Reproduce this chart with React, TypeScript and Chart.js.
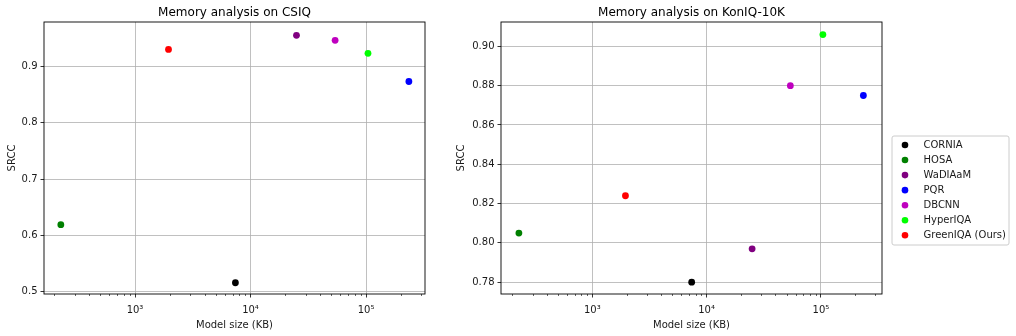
import React, { useEffect, useRef } from "react";
import { Chart, registerables } from "chart.js";

Chart.register(...registerables);

const models = ["CORNIA", "HOSA", "WaDIAaM", "PQR", "DBCNN", "HyperIQA", "GreenIQA (Ours)"];
const modelColors = ["#000000", "#008000", "#800080", "#0000ff", "#bf00bf", "#00ff00", "#ff0000"];
const modelSizesKB = [7400, 228, 25000, 235000, 54000, 104000, 1950];
const srccCSIQ = [0.516, 0.619, 0.955, 0.873, 0.946, 0.923, 0.930];
const srccKonIQ = [0.780, 0.805, 0.797, 0.875, 0.880, 0.906, 0.824];

const xTickValues = [1e3, 1e4, 1e5];
const xTickLabels = ["10³", "10⁴", "10⁵"];
const yTicksCSIQ = [0.5, 0.6, 0.7, 0.8, 0.9];
const yTicksKonIQ = [0.78, 0.8, 0.82, 0.84, 0.86, 0.88, 0.9];

const FONT = "'DejaVu Sans', sans-serif";
const TEXT = "#1a1a1a";

const framePlugin = {
  id: "frameMinor",
  afterDraw(chart: any) {
    const { ctx, chartArea } = chart;
    const sc = chart.scales.x;
    ctx.save();
    ctx.strokeStyle = "#000";
    ctx.lineWidth = 0.6;
    for (let d = 0; d < 8; d++) {
      for (let m = 2; m <= 9; m++) {
        const v = m * Math.pow(10, d);
        if (v >= sc.min && v <= sc.max) {
          const px = Math.round(sc.getPixelForValue(v)) + 0.5;
          ctx.beginPath();
          ctx.moveTo(px, chartArea.bottom);
          ctx.lineTo(px, chartArea.bottom + 2);
          ctx.stroke();
        }
      }
    }
    ctx.lineWidth = 0.9;
    ctx.strokeRect(chartArea.left, chartArea.top, chartArea.right - chartArea.left, chartArea.bottom - chartArea.top);
    ctx.restore();
  },
};

const legendPlugin = {
  id: "boxLegend",
  afterDraw(chart: any) {
    const opts = chart.options.plugins.boxLegend;
    if (!opts || !opts.show) return;
    const { ctx } = chart;
    const x = opts.x, y = opts.y, w = opts.w, h = opts.h;
    ctx.save();
    ctx.beginPath();
    const r = 2;
    ctx.moveTo(x + r, y);
    ctx.lineTo(x + w - r, y);
    ctx.quadraticCurveTo(x + w, y, x + w, y + r);
    ctx.lineTo(x + w, y + h - r);
    ctx.quadraticCurveTo(x + w, y + h, x + w - r, y + h);
    ctx.lineTo(x + r, y + h);
    ctx.quadraticCurveTo(x, y + h, x, y + h - r);
    ctx.lineTo(x, y + r);
    ctx.quadraticCurveTo(x, y, x + r, y);
    ctx.closePath();
    ctx.fillStyle = "rgba(255,255,255,0.8)";
    ctx.fill();
    ctx.strokeStyle = "#cccccc";
    ctx.lineWidth = 1;
    ctx.stroke();
    ctx.font = `10px ${FONT}`;
    ctx.textBaseline = "middle";
    chart.data.datasets.forEach((ds: any, i: number) => {
      const cy = y + 9 + i * 15.05;
      ctx.beginPath();
      ctx.arc(x + 13, cy, 3.3, 0, Math.PI * 2);
      ctx.fillStyle = ds.backgroundColor;
      ctx.fill();
      ctx.fillStyle = TEXT;
      ctx.fillText(ds.label, x + 31.5, cy + 0.5);
    });
    ctx.restore();
  },
};

function makeConfig(
  title: string,
  values: number[],
  yTicks: number[],
  yMin: number,
  yMax: number,
  xMin: number,
  xMax: number,
  decimals: number,
  yWidth: number,
  rightPad: number,
  yTitlePad: number,
  legend: boolean
): any {
  return {
    type: "scatter",
    data: {
      datasets: models.map((m, i) => ({
        label: m,
        data: [{ x: modelSizesKB[i], y: values[i] }],
        backgroundColor: modelColors[i],
        borderColor: modelColors[i],
        borderWidth: 0,
        pointRadius: 3.4,
        pointHoverRadius: 3.4,
      })),
    },
    options: {
      responsive: false,
      animation: false,
      events: [],
      layout: { padding: { left: 0, right: rightPad, top: 0, bottom: 0 } },
      plugins: {
        legend: { display: false },
        tooltip: { enabled: false },
        title: {
          display: true,
          text: title,
          fullSize: false,
          color: "#000",
          font: { family: FONT, size: 12, weight: "normal" },
          padding: { top: 6, bottom: 1.6 },
        },
        boxLegend: { show: legend, x: 452, y: 136, w: 117, h: 109 },
      },
      scales: {
        x: {
          type: "logarithmic",
          min: xMin,
          max: xMax,
          border: { display: false },
          grid: { color: "#b0b0b0", lineWidth: 0.8, tickColor: "#000", tickLength: 3.5, tickWidth: 0.8 },
          afterBuildTicks: (sc: any) => {
            sc.ticks = xTickValues.map((v) => ({ value: v }));
          },
          afterFit: (sc: any) => {
            sc.height = 42;
          },
          ticks: {
            autoSkip: false,
            maxRotation: 0,
            padding: 7,
            color: TEXT,
            font: { family: FONT, size: 10 },
            callback: (v: number) => {
              const idx = xTickValues.indexOf(v);
              return idx >= 0 ? xTickLabels[idx] : "";
            },
          },
          title: {
            display: true,
            text: "Model size (KB)",
            color: TEXT,
            font: { family: FONT, size: 10 },
            padding: { top: 0, bottom: 5 },
          },
        },
        y: {
          type: "linear",
          min: yMin,
          max: yMax,
          bounds: "data",
          border: { display: false },
          grid: { color: "#b0b0b0", lineWidth: 0.8, tickColor: "#000", tickLength: 3.5, tickWidth: 0.8 },
          afterBuildTicks: (sc: any) => {
            sc.ticks = yTicks.map((v) => ({ value: v }));
          },
          afterFit: (sc: any) => {
            sc.width = yWidth;
          },
          ticks: {
            autoSkip: false,
            padding: 3,
            color: TEXT,
            font: { family: FONT, size: 10 },
            callback: (v: number) => Number(v).toFixed(decimals),
          },
          title: {
            display: true,
            text: "SRCC",
            color: TEXT,
            font: { family: FONT, size: 10 },
            padding: { top: yTitlePad, bottom: 0 },
          },
        },
      },
    },
    plugins: [framePlugin, legendPlugin],
  };
}

export default function App() {
  const ref1 = useRef<HTMLCanvasElement>(null);
  const ref2 = useRef<HTMLCanvasElement>(null);
  useEffect(() => {
    const c1 = new Chart(
      ref1.current as HTMLCanvasElement,
      makeConfig("Memory analysis on CSIQ", srccCSIQ, yTicksCSIQ, 0.496, 0.9786, 163, 324000, 1, 44, 15, 6, false)
    );
    const c2 = new Chart(
      ref2.current as HTMLCanvasElement,
      makeConfig("Memory analysis on KonIQ-10K", srccKonIQ, yTicksKonIQ, 0.774, 0.9124, 159, 342000, 2, 61, 134, 15.5, true)
    );
    return () => {
      c1.destroy();
      c2.destroy();
    };
  }, []);
  return (
    <div style={{ position: "absolute", left: 0, top: 0, width: 1016, height: 336, background: "#fff" }}>
      <canvas ref={ref1} width={440} height={336} style={{ position: "absolute", left: 0, top: 0 }} />
      <canvas ref={ref2} width={576} height={336} style={{ position: "absolute", left: 440, top: 0 }} />
    </div>
  );
}
